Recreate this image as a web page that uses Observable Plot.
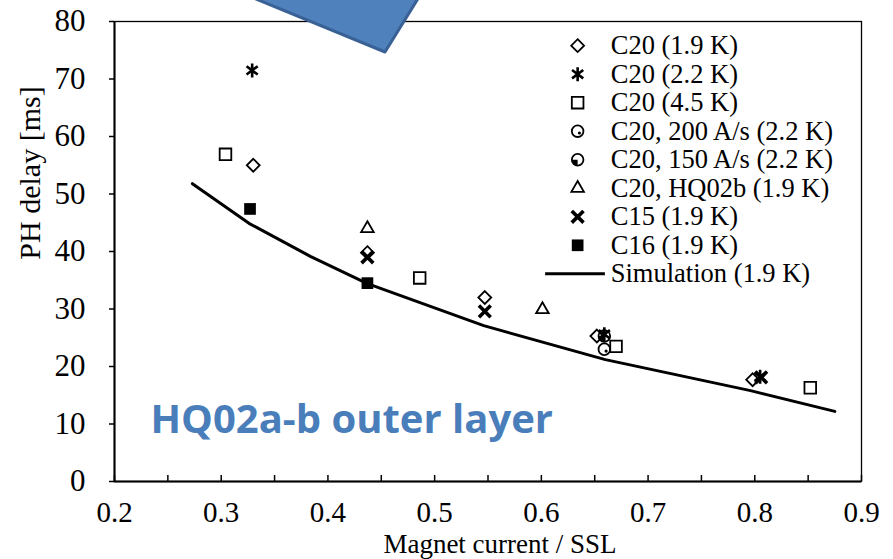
<!DOCTYPE html>
<html>
<head>
<meta charset="utf-8">
<script src="https://cdn.jsdelivr.net/npm/d3@7"></script>
<script src="https://cdn.jsdelivr.net/npm/@observablehq/plot@0.6"></script>
<style>
  html, body { margin: 0; padding: 0; background: white; }
  #chart { width: 893px; height: 559px; overflow: hidden; }
</style>
</head>
<body>
<div id="chart"></div>
<script>
// ---- data ----
const c20_19K_x = [0.330, 0.437, 0.547, 0.652, 0.798];
const c20_19K_y = [55.0, 39.8, 32.0, 25.3, 17.7];
const c20_22K_x = [0.329, 0.659, 0.805];
const c20_22K_y = [71.5, 25.6, 18.2];
const c20_45K_x = [0.304, 0.486, 0.670, 0.852];
const c20_45K_y = [56.9, 35.4, 23.5, 16.3];
const c20_200_x = [0.659];
const c20_200_y = [23.0];
const c20_150_x = [0.659];
const c20_150_y = [25.3];
const c20_hq02b_x = [0.437, 0.601];
const c20_hq02b_y = [44.0, 29.9];
const c15_x = [0.437, 0.547, 0.806];
const c15_y = [39.0, 29.6, 18.1];
const c16_x = [0.327, 0.437];
const c16_y = [47.4, 34.5];
const sim_x = [0.273, 0.326, 0.384, 0.437, 0.546, 0.660, 0.796, 0.875];
const sim_y = [51.8, 44.9, 39.1, 34.4, 27.1, 21.2, 15.8, 12.2];

const seriesNames = [
  "C20 (1.9 K)", "C20 (2.2 K)", "C20 (4.5 K)", "C20, 200 A/s (2.2 K)",
  "C20, 150 A/s (2.2 K)", "C20, HQ02b (1.9 K)", "C15 (1.9 K)", "C16 (1.9 K)",
  "Simulation (1.9 K)"
];
const xTickLabels = [0.2, 0.3, 0.4, 0.5, 0.6, 0.7, 0.8, 0.9];
const yTickLabels = [0, 10, 20, 30, 40, 50, 60, 70, 80];
const annotation = "HQ02a-b outer layer";
const xLabel = "Magnet current / SSL";
const yLabel = "PH delay [ms]";

// ---- build tables ----
const zip = (xs, ys) => xs.map((x, i) => ({x, y: ys[i]}));
const seriesData = [
  zip(c20_19K_x, c20_19K_y), zip(c20_22K_x, c20_22K_y), zip(c20_45K_x, c20_45K_y),
  zip(c20_200_x, c20_200_y), zip(c20_150_x, c20_150_y), zip(c20_hq02b_x, c20_hq02b_y),
  zip(c15_x, c15_y), zip(c16_x, c16_y)
];
const simData = zip(sim_x, sim_y);

// custom symbol: filled bottom-left wedge (for the 150 A/s marker)
const wedge = {
  draw(ctx, size) {
    const r = Math.sqrt(size / Math.PI);
    ctx.moveTo(0, 0);
    ctx.arc(0, 0, r, Math.PI / 2, Math.PI);
    ctx.closePath();
  }
};
// custom symbol: asterisk = vertical bar + X
const star = {
  draw(ctx, size) {
    const r = Math.sqrt(size / Math.PI);
    const u = r * 0.8;
    ctx.moveTo(0, -r); ctx.lineTo(0, r);
    ctx.moveTo(-u, -u * 0.75); ctx.lineTo(u, u * 0.75);
    ctx.moveTo(-u, u * 0.75); ctx.lineTo(u, -u * 0.75);
  }
};

// marks for one series drawn at the given rows
function seriesMarks(i, rows) {
  const base = {x: "x", y: "y"};
  switch (i) {
    case 0: return [Plot.dot(rows, {...base, symbol: "diamond2", r: 5.8, stroke: "black", strokeWidth: 1.8})];
    case 1: return [Plot.dot(rows, {...base, symbol: star, r: 7, stroke: "black", fill: "none", strokeWidth: 2.6})];
    case 2: return [Plot.dot(rows, {...base, symbol: "square2", r: 7.4, stroke: "black", strokeWidth: 1.8})];
    case 3: return [
      Plot.dot(rows, {...base, symbol: "circle", r: 5.8, stroke: "black", strokeWidth: 1.8, fill: "none"}),
      Plot.dot(rows, {...base, symbol: "circle", r: 1.6, fill: "black", dx: 1.8, dy: 1.8})
    ];
    case 4: return [
      Plot.dot(rows, {...base, symbol: "circle", r: 5.8, stroke: "black", strokeWidth: 1.8, fill: "none"}),
      Plot.dot(rows, {...base, symbol: wedge, r: 5.8, fill: "black"})
    ];
    case 5: return [Plot.dot(rows, {...base, symbol: "triangle2", r: 6.0, stroke: "black", strokeWidth: 1.8})];
    case 6: return [Plot.dot(rows, {...base, symbol: "times", r: 5.4, stroke: "black", strokeWidth: 3.6})];
    case 7: return [Plot.dot(rows, {...base, symbol: "square", r: 6.6, fill: "black"})];
  }
  return [];
}

// legend layout (inside plot area, in data units)
const legX = 0.634, legTextX = 0.665, legY0 = 75.8, legStep = 4.96;
const legRows = seriesNames.map((name, i) => ({name, i, x: legX, y: legY0 - i * legStep}));

const marks = [];
// simulation line
marks.push(Plot.line(simData, {x: "x", y: "y", stroke: "black", strokeWidth: 3}));
// data points
seriesData.forEach((rows, i) => marks.push(...seriesMarks(i, rows)));
// legend
legRows.slice(0, 8).forEach(r => marks.push(...seriesMarks(r.i, [r])));
const simRow = legRows[8];
marks.push(Plot.ruleY([simRow], {y: "y", x1: () => 0.604, x2: () => 0.660, stroke: "black", strokeWidth: 3}));
marks.push(Plot.text(legRows, {x: () => legTextX, y: "y", text: "name", textAnchor: "start", lineAnchor: "middle", fontSize: 26.5, fill: "black"}));

// annotation text
marks.push(Plot.text([annotation], {
  frameAnchor: "bottom-left", dx: 36, dy: -61, textAnchor: "start", lineAnchor: "middle",
  fontFamily: "Open Sans", fontWeight: "bold", fontSize: 40, fill: "#4a7ebb"
}));

// frame and axes
marks.push(Plot.frame({stroke: "black", strokeWidth: 1.3}));
marks.push(Plot.ruleY([0], {stroke: "black", strokeWidth: 2.2}));
marks.push(Plot.ruleX([0.2], {stroke: "black", strokeWidth: 2}));
marks.push(Plot.axisY({ticks: yTickLabels, tickSize: 5, tickPadding: 24, tickFormat: d => String(d), label: null, strokeWidth: 1.5, fontSize: 31}));
const minorX = d3.range(0.2, 0.9001, 0.05);
marks.push(Plot.axisX({ticks: minorX, tickSize: 6, dy: -6, tickFormat: () => "", label: null, strokeWidth: 1.5}));
marks.push(Plot.axisX({ticks: xTickLabels, tickSize: 0, tickPadding: 20, tickFormat: d => d.toFixed(1), label: null, fontSize: 29}));
// x axis title
marks.push(Plot.text([xLabel], {frameAnchor: "bottom", dx: 12, dy: 63, lineAnchor: "middle", fontSize: 27, fill: "black"}));

const svg = Plot.plot({
  width: 893,
  height: 559,
  marginLeft: 114,
  marginRight: 32,
  marginTop: 21,
  marginBottom: 78,
  x: {domain: [0.2, 0.9], axis: null},
  y: {domain: [0, 80], axis: null},
  style: {fontFamily: "Liberation Serif", fontSize: "26px", background: "white", color: "black"},
  marks
});

// y axis title (rotated)
d3.select(svg).append("text")
  .attr("transform", "translate(29,173) rotate(-90)")
  .attr("text-anchor", "middle")
  .attr("dy", "0.35em")
  .attr("font-family", "Liberation Serif")
  .attr("font-size", 30)
  .attr("fill", "black")
  .text(yLabel);

// decorative blue callout shape (partly off-canvas, top)
d3.select(svg).append("polygon")
  .attr("points", "385,52 200,-24 300,-120 440,-37")
  .attr("fill", "#4f81bd")
  .attr("stroke", "#3a6195")
  .attr("stroke-width", 3)
  .attr("stroke-linejoin", "round");

document.getElementById("chart").appendChild(svg);
</script>
</body>
</html>
